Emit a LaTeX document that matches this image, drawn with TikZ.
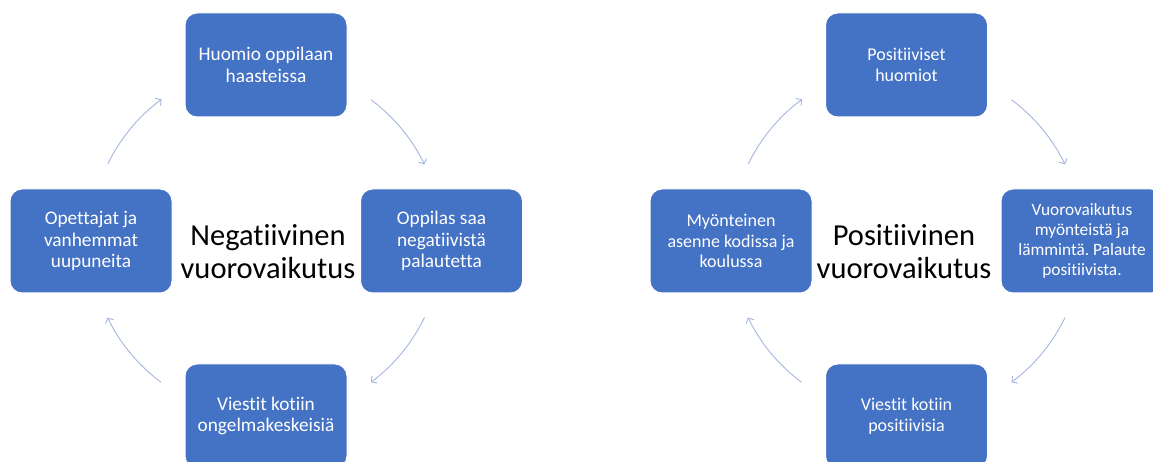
\documentclass[tikz,border=0pt]{standalone}
\usepackage{fontspec}
\setmainfont{Carlito}[Ligatures=NoCommon]
\usetikzlibrary{arrows.meta}
\definecolor{boxblue}{HTML}{4472C4}
\definecolor{arcblue}{HTML}{A3B6E1}
\frenchspacing
\begin{document}
\begin{tikzpicture}[x=1pt,y=1pt,
  stage/.style={draw=white,line width=1pt,fill=boxblue,rounded corners=12pt,
    minimum width=162pt,minimum height=104pt,align=center,text=white,
    font=\fontsize{19.3}{21.5}\selectfont,inner sep=2pt},
  pstage/.style={stage,font=\fontsize{18}{20.5}\selectfont},
  hub/.style={align=center,font=\fontsize{30.5}{33}\selectfont},
  cyc/.style={arcblue,line width=0.9pt,-{Straight Barb[length=4pt,width=9pt]}}]
\useasboundingbox (0,0) rectangle (1153,462);
% negative cycle
\coordinate (nc) at (266,221);
\node[hub] (nhub) at (268,210) {Negatiivinen\\vuorovaikutus};
\node[stage] (ntop) at (266,397) {Huomio oppilaan\\haasteissa};
\node[stage] (nright) at (441.5,221) {Oppilas saa\\negatiivistä\\palautetta};
\node[stage] (nbottom) at (266,46) {Viestit kotiin\\ongelmakeskeisiä};
\node[stage] (nleft) at (91,221) {Opettajat ja\\vanhemmat\\uupuneita};
\foreach \a in {154,53.4,-25.8,-126.6}
\draw[cyc] ([shift={(\a:176)}]nc) arc[start angle=\a,delta angle=-27.6,radius=176];
% positive cycle
\coordinate (pc) at (906.5,221);
\node[hub] (phub) at (904,210) {Positiivinen\\vuorovaikutus};
\node[pstage] (ptop) at (906.5,397) {Positiiviset\\huomiot};
\node[pstage,font=\fontsize{17.3}{20}\selectfont] (pright) at (1082,221) {Vuorovaikutus\\myönteistä ja\\lämmintä. Palaute\\positiivista.};
\node[pstage] (pbottom) at (906.5,46) {Viestit kotiin\\positiivisia};
\node[pstage] (pleft) at (731,221) {Myönteinen\\asenne kodissa ja\\koulussa};
\foreach \a in {154,53.4,-25.8,-126.6}
\draw[cyc] ([shift={(\a:176)}]pc) arc[start angle=\a,delta angle=-27.6,radius=176];
\end{tikzpicture}
\end{document}
